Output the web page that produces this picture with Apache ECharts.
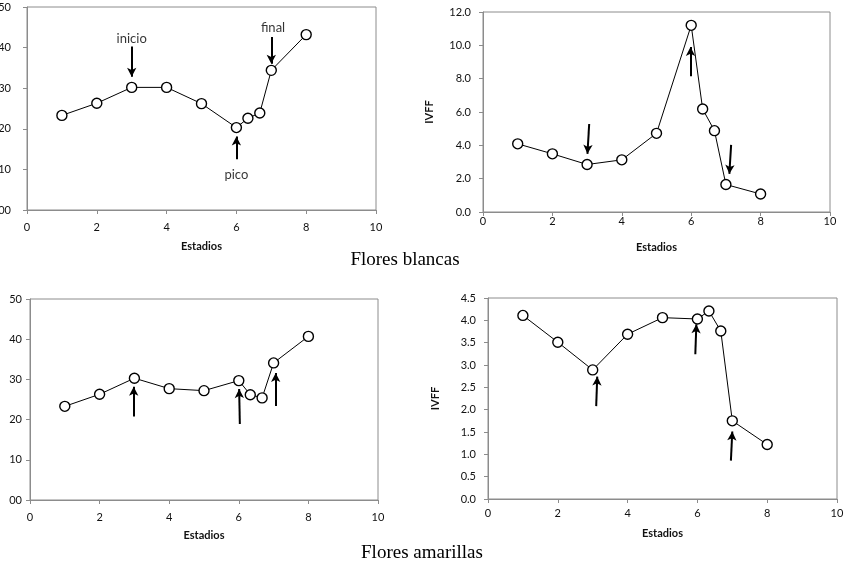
<!DOCTYPE html>
<html>
<head>
<meta charset="utf-8">
<script src="https://cdn.jsdelivr.net/npm/echarts@6/dist/echarts.min.js"></script>
<style>
html,body{margin:0;padding:0;background:#fff;}
#c{width:850px;height:570px;}
</style>
</head>
<body>
<div id="c"></div>
<script>
// ---- data ----
var stages = [1, 2, 3, 4, 5, 6, 6.33, 6.67, 7, 8];
var blancasDiam = [23.3, 26.3, 30.2, 30.2, 26.2, 20.3, 22.6, 23.9, 34.4, 43.2];
var blancasIVFF = [4.09, 3.49, 2.85, 3.13, 4.72, 11.2, 6.18, 4.88, 1.65, 1.08];
var amarillasDiam = [23.3, 26.3, 30.3, 27.7, 27.2, 29.7, 26.2, 25.4, 34.1, 40.7];
var amarillasIVFF = [4.11, 3.51, 2.89, 3.69, 4.06, 4.03, 4.21, 3.76, 1.75, 1.22];

// arrows: [xStart, yStart, xEnd(tip), yEnd(tip)]
var blancasDiamArrows = [[3, 40.3, 3, 32.8], [7, 42.6, 7, 36.0], [6, 12.5, 6, 18.1]];
var blancasIVFFArrows = [[3.06, 5.28, 3.01, 3.49], [5.98, 8.15, 5.98, 9.9], [7.15, 4.03, 7.10, 2.29]];
var amarillasDiamArrows = [[2.98, 20.8, 2.98, 28.2], [6.03, 18.9, 6.01, 27.6], [7.06, 23.4, 7.06, 31.6]];
var amarillasIVFFArrows = [[3.10, 2.08, 3.13, 2.74], [5.94, 3.24, 5.97, 3.91], [6.96, 0.86, 7.0, 1.51]];

// annotation labels: [x, y, text]
var blancasDiamNotes = [[3, 42.1, 'inicio'], [7.05, 44.9, 'final'], [6, 8.6, 'pico']];

var xTitle = 'Estadios';
var yTitleIVFF = 'IVFF';
var captions = ['Flores blancas', 'Flores amarillas'];

// ---- chart ----
var chart = echarts.init(document.getElementById('c'), null, {renderer: 'canvas'});
var labelFont = 'Lato';
var gridBase = {show: true, borderColor: '#8c8c8c', borderWidth: 1, backgroundColor: 'transparent', containLabel: false, outerBoundsMode: 'none'};
var grids = [
  Object.assign({left: 27, top: 7, width: 349, height: 203}, gridBase),
  Object.assign({left: 483, top: 12, width: 347, height: 200}, gridBase),
  Object.assign({left: 30, top: 299, width: 348, height: 201}, gridBase),
  Object.assign({left: 488, top: 298, width: 349, height: 201}, gridBase)
];
function xAx(i, labelMargin, nameGap) {
  return {
    type: 'value', gridIndex: i, min: 0, max: 10, interval: 2,
    name: xTitle, nameLocation: 'middle', nameGap: nameGap,
    nameTextStyle: {fontFamily: labelFont, fontWeight: 'bold', fontSize: 11, color: '#111'},
    axisLine: {show: true, lineStyle: {color: '#8c8c8c', width: 1}},
    axisTick: {show: true, inside: false, length: 4, lineStyle: {color: '#8c8c8c'}},
    axisLabel: {fontFamily: labelFont, fontSize: 11, color: '#111', margin: labelMargin},
    splitLine: {show: false}
  };
}
function yAx(i, max, interval, fmt, labelMargin, name, nameGap) {
  return {
    type: 'value', gridIndex: i, min: 0, max: max, interval: interval,
    name: name || '', nameLocation: 'middle', nameGap: nameGap || 0, nameRotate: 90,
    nameTextStyle: {fontFamily: labelFont, fontWeight: 'bold', fontSize: 11, color: '#111'},
    axisLine: {show: true, lineStyle: {color: '#8c8c8c', width: 1}},
    axisTick: {show: true, inside: false, length: 4, lineStyle: {color: '#8c8c8c'}},
    axisLabel: {fontFamily: labelFont, fontSize: 11, color: '#111', margin: labelMargin, formatter: fmt},
    splitLine: {show: false}
  };
}
function pad2(v) { var s = String(Math.round(v)); return s.length < 2 ? '0' + s : s; }
function fix1(v) { return v.toFixed(1); }

function pairs(xs, ys) { return xs.map(function (x, k) { return [x, ys[k]]; }); }
function arrowData(arr) {
  return arr.map(function (a) { return [{coord: [a[0], a[1]]}, {coord: [a[2], a[3]]}]; });
}
function lineSeries(i, ys, arrows) {
  return {
    type: 'line', xAxisIndex: i, yAxisIndex: i,
    data: pairs(stages, ys),
    symbol: 'circle', symbolSize: 10, showSymbol: true,
    itemStyle: {color: '#fff', borderColor: '#000', borderWidth: 1.4},
    lineStyle: {color: '#000', width: 1},
    animation: false, z: 3,
    markLine: {
      silent: true, animation: false,
      symbol: ['none', 'arrow'], symbolSize: [7, 9],
      lineStyle: {color: '#000', width: 2, type: 'solid'},
      label: {show: false},
      emphasis: {disabled: true},
      data: arrowData(arrows)
    }
  };
}

var option = {
  backgroundColor: '#fff',
  animation: false,
  grid: grids,
  xAxis: [xAx(0, 12, 31), xAx(1, 4, 30), xAx(2, 12, 30), xAx(3, 9, 29)],
  yAxis: [
    yAx(0, 50, 10, pad2, 16),
    yAx(1, 12, 2, fix1, 12, yTitleIVFF, 48),
    yAx(2, 50, 10, pad2, 8),
    yAx(3, 4.5, 0.5, fix1, 12, yTitleIVFF, 47)
  ],
  series: [
    lineSeries(0, blancasDiam, blancasDiamArrows),
    lineSeries(1, blancasIVFF, blancasIVFFArrows),
    lineSeries(2, amarillasDiam, amarillasDiamArrows),
    lineSeries(3, amarillasIVFF, amarillasIVFFArrows),
    {
      type: 'scatter', xAxisIndex: 0, yAxisIndex: 0, symbolSize: 0, silent: true,
      data: blancasDiamNotes.map(function (n) { return {value: [n[0], n[1]], name: n[2]}; }),
      label: {show: true, position: 'inside', formatter: '{b}', fontFamily: labelFont, fontSize: 13, color: '#000'}
    }
  ],
  graphic: [
    {type: 'text', x: 405, y: 260, style: {text: captions[0], font: '19px "Liberation Serif"', fill: '#000', textAlign: 'center', textVerticalAlign: 'middle'}},
    {type: 'text', x: 422, y: 553, style: {text: captions[1], font: '19px "Liberation Serif"', fill: '#000', textAlign: 'center', textVerticalAlign: 'middle'}}
  ]
};
chart.setOption(option);
</script>
</body>
</html>
